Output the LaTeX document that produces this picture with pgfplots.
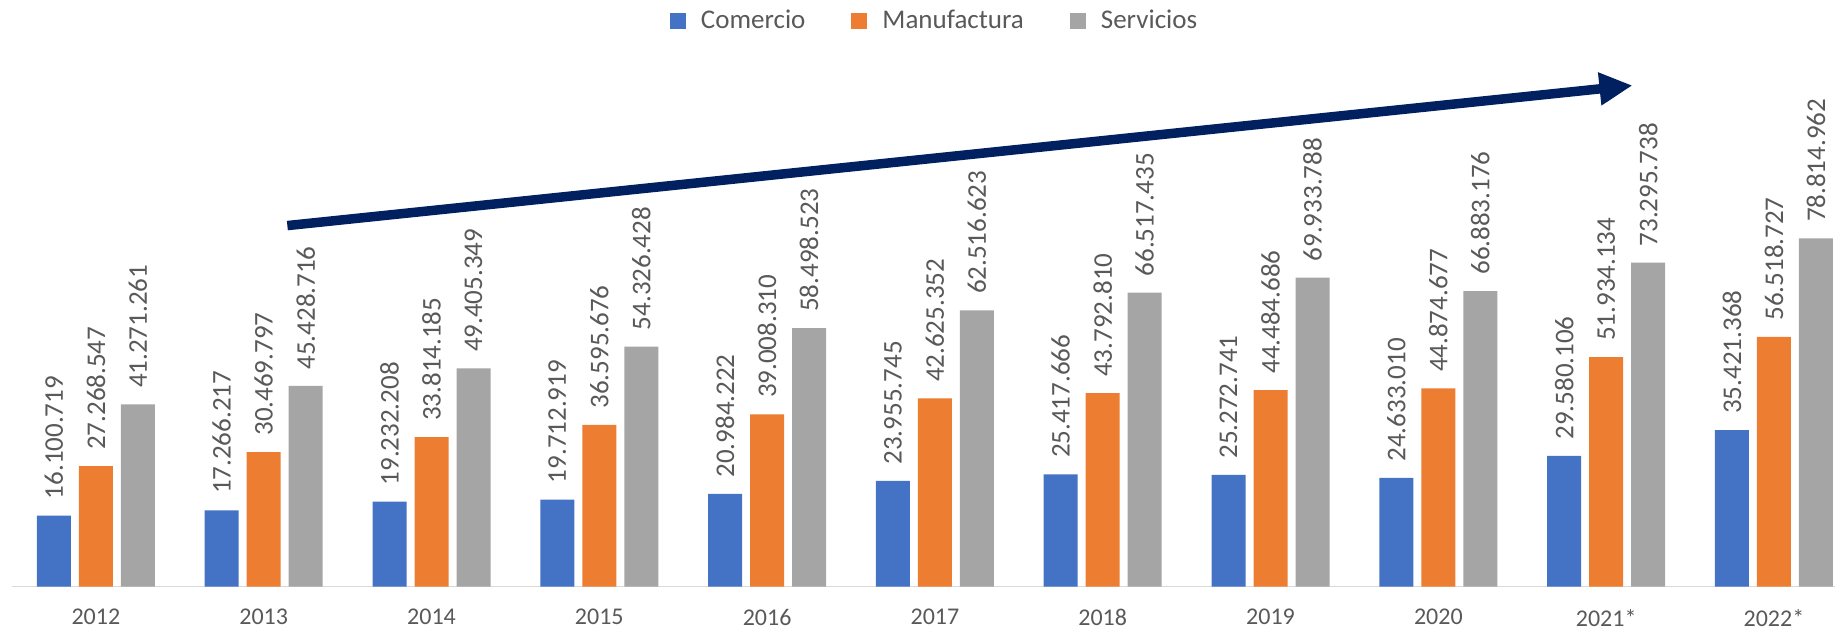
\documentclass[border=0pt]{standalone}
\usepackage{fontspec}
\setmainfont{Carlito}
\usepackage{pgfplots}
\usepackage{pgfplotstable}
\pgfplotsset{compat=1.18}
\usetikzlibrary{arrows.meta}
\definecolor{cBlue}{HTML}{4472C4}
\definecolor{cOrange}{HTML}{ED7D31}
\definecolor{cGray}{HTML}{A5A5A5}
\definecolor{cText}{HTML}{595959}
\definecolor{cAxis}{HTML}{D9D9D9}
\definecolor{cNavy}{HTML}{002060}

\pgfplotstableread{
x y l
0 16.100719 16.100.719
1 17.266217 17.266.217
2 19.232208 19.232.208
3 19.712919 19.712.919
4 20.984222 20.984.222
5 23.955745 23.955.745
6 25.417666 25.417.666
7 25.272741 25.272.741
8 24.633010 24.633.010
9 29.580106 29.580.106
10 35.421368 35.421.368
}\comercio
\pgfplotstableread{
x y l
0 27.268547 27.268.547
1 30.469797 30.469.797
2 33.814185 33.814.185
3 36.595676 36.595.676
4 39.008310 39.008.310
5 42.625352 42.625.352
6 43.792810 43.792.810
7 44.484686 44.484.686
8 44.874677 44.874.677
9 51.934134 51.934.134
10 56.518727 56.518.727
}\manufactura
\pgfplotstableread{
x y l
0 41.271261 41.271.261
1 45.428716 45.428.716
2 49.405349 49.405.349
3 54.326428 54.326.428
4 58.498523 58.498.523
5 62.516623 62.516.623
6 66.517435 66.517.435
7 69.933788 69.933.788
8 66.883176 66.883.176
9 73.295738 73.295.738
10 78.814962 78.814.962
}\servicios

\begin{document}
\begin{tikzpicture}
\begin{axis}[
  scale only axis,
  width=911.5pt, height=293.35pt,
  xmin=-0.5, xmax=10.364, ymin=0, ymax=132.74,
  enlargelimits=false,
  clip=false,
  ybar, bar width=17pt,
  axis x line*=bottom,
  axis y line=none,
  x axis line style={draw=cAxis, line width=0.75pt},
  xtick={0,1,2,3,4,5,6,7,8,9,10},
  xticklabels={2012,2013,2014,2015,2016,2017,2018,2019,2020,2021*,2022*},
  major tick length=0pt,
  ytick=\empty,
  xticklabel style={font=\fontsize{12}{14}\selectfont, text=cText, anchor=north, inner sep=0pt, yshift=-11pt},
  point meta=explicit symbolic,
  nodes near coords,
  every node near coord/.append style={rotate=90, anchor=west, font=\fontsize{13.5}{16}\selectfont, text=cText, inner xsep=8pt, inner ysep=0pt},
  legend columns=3,
  legend style={at={(rel axis cs:0.5066,0.9642)}, anchor=center, draw=none, fill=none,
    font=\fontsize{13.5}{16}\selectfont, text=cText,
    /tikz/every odd column/.append style={column sep=5.5pt},
    /tikz/every even column/.append style={column sep=21pt}},
  legend cell align=left,
  legend image code/.code={\fill[#1] (0pt,-4pt) rectangle (8pt,4pt);},
]
\addplot[fill=cBlue, draw=none, bar shift=-21pt] table[x=x, y=y, meta=l] {\comercio};
\addplot[fill=cOrange, draw=none, bar shift=0pt] table[x=x, y=y, meta=l] {\manufactura};
\addplot[fill=cGray, draw=none, bar shift=21pt] table[x=x, y=y, meta=l] {\servicios};
\legend{Comercio,Manufactura,Servicios}
\draw[cNavy, line width=4.75pt, -{Triangle[length=16.5pt,width=15.5pt]}] (axis cs:1.141,81.7) -- (axis cs:9.157,113.4);
\coordinate (LL) at (axis cs:-0.5,0);
\coordinate (UR) at (axis cs:10.364,132.74);
\end{axis}
\pgfresetboundingbox
\path ([shift={(-6pt,-21.15pt)}]LL) rectangle (UR);
\end{tikzpicture}
\end{document}
